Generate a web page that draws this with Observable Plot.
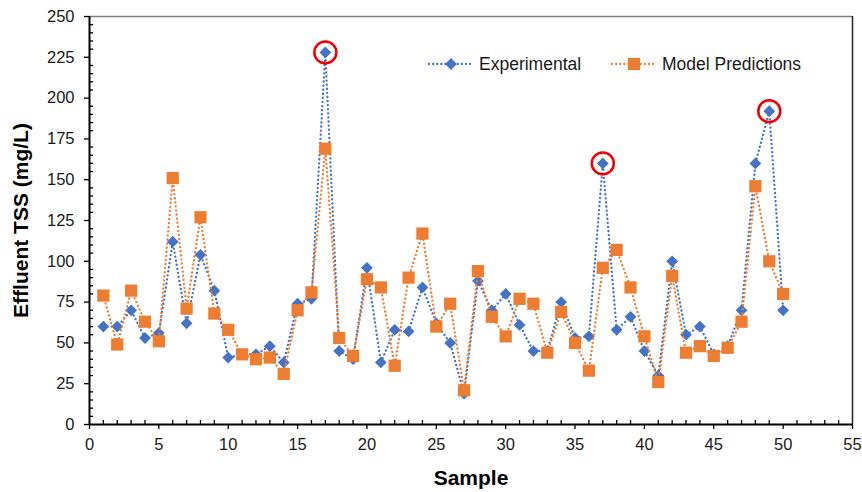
<!DOCTYPE html>
<html>
<head>
<meta charset="utf-8">
<script src="https://cdn.jsdelivr.net/npm/d3@7"></script>
<script src="https://cdn.jsdelivr.net/npm/@observablehq/plot@0.6"></script>
<style>
  body { margin: 0; background: #fff; }
  #chart svg { display: block; }
</style>
</head>
<body>
<div id="chart"></div>
<script>
// Sample index and effluent TSS (mg/L): measured vs. model
const sample = [1, 2, 3, 4, 5, 6, 7, 8, 9, 10, 11, 12, 13, 14, 15, 16, 17, 18, 19, 20,
  21, 22, 23, 24, 25, 26, 27, 28, 29, 30, 31, 32, 33, 34, 35, 36, 37, 38, 39, 40,
  41, 42, 43, 44, 45, 46, 47, 48, 49, 50];
const experimental = [60, 60, 70, 53, 56, 112, 62, 104, 82, 41, 43, 43, 48, 38, 74, 77, 228, 45, 40, 96,
  38, 58, 57, 84, 62, 50, 19, 88, 70, 80, 61, 45, 45, 75, 53, 54, 160, 58, 66, 45,
  30, 100, 55, 60, 43, 48, 70, 160, 192, 70];
const model = [79, 49, 82, 63, 51, 151, 71, 127, 68, 58, 43, 40, 41, 31, 70, 81, 169, 53, 42, 89,
  84, 36, 90, 117, 60, 74, 21, 94, 66, 54, 77, 74, 44, 69, 50, 33, 96, 107, 84, 54,
  26, 91, 44, 48, 42, 47, 63, 146, 100, 80];
// Samples whose measured peak is circled
const highlighted = [17, 37, 49];

const xMajor = [0, 5, 10, 15, 20, 25, 30, 35, 40, 45, 50, 55];
const yMajor = [0, 25, 50, 75, 100, 125, 150, 175, 200, 225, 250];
const xMinor = d3.range(0, 56, 1).filter(v => v % 5 !== 0);
const yMinor = d3.range(0, 251, 5).filter(v => v % 25 !== 0);

const seriesNames = ["Experimental", "Model Predictions"];
const blue = "#4472C4";
const orange = "#ED7D31";
const font = "'Liberation Sans', Arial, sans-serif";

const rows = sample.map((s, i) => ({sample: s, experimental: experimental[i], model: model[i]}));
const peaks = rows.filter(d => highlighted.includes(d.sample));

const dotted = {strokeWidth: 2.3, strokeDasharray: "0.1,4", strokeLinecap: "round"};
const diamondR = 5.3;
const squareR = 6.9;

const chart = Plot.plot({
  width: 862,
  height: 492,
  marginLeft: 89,
  marginRight: 10,
  marginTop: 16,
  marginBottom: 68,
  x: {domain: [0, 55]},
  y: {domain: [0, 250]},
  style: {fontFamily: font, fontSize: "16.5px", color: "#1a1a1a", background: "#fff", overflow: "visible"},
  marks: [
    // plot-area border (top and right)
    Plot.ruleY([250], {stroke: "#808080", strokeWidth: 1.5}),
    Plot.ruleX([55], {stroke: "#262626", strokeWidth: 1.5}),
    // minor ticks pointing inward
    Plot.ruleY(yMinor, {y: d => d, x1: 0, x2: 0, insetRight: -4, stroke: "#000", strokeWidth: 1.3}),
    Plot.ruleX(xMinor, {x: d => d, y1: 0, y2: 0, insetTop: -4, stroke: "#000", strokeWidth: 1.3}),
    // axes
    Plot.axisY(yMajor, {tickSize: 5, tickPadding: 10, label: null, fontSize: 16.5, stroke: "#000", strokeWidth: 1.3}),
    Plot.axisX(xMajor, {tickSize: 5, tickPadding: 9, label: null, fontSize: 16.5, stroke: "#000", strokeWidth: 1.3}),
    Plot.ruleX([0], {stroke: "#000", strokeWidth: 2}),
    Plot.ruleY([0], {stroke: "#000", strokeWidth: 2}),
    // axis titles
    Plot.text(["Effluent TSS (mg/L)"], {frameAnchor: "left", dx: -68, rotate: -90, textAnchor: "middle", lineAnchor: "middle", fontSize: 21, fontWeight: "bold", fill: "#000"}),
    Plot.text(["Sample"], {frameAnchor: "bottom", dy: 54, textAnchor: "middle", lineAnchor: "middle", fontSize: 21, fontWeight: "bold", fill: "#000"}),
    // experimental series
    Plot.line(rows, {x: "sample", y: "experimental", stroke: blue, ...dotted}),
    Plot.dot(rows, {x: "sample", y: "experimental", symbol: "diamond2", r: diamondR, fill: blue, stroke: null}),
    // model series
    Plot.line(rows, {x: "sample", y: "model", stroke: orange, ...dotted}),
    Plot.dot(rows, {x: "sample", y: "model", symbol: "square", r: squareR, fill: orange, stroke: null}),
    // circled peaks
    Plot.dot(peaks, {x: "sample", y: "experimental", r: 11, fill: "none", stroke: "#EE0000", strokeWidth: 2.5})
  ]
});

// legend inside the plot area, top right
const svg = d3.select(chart);
const legend = svg.append("g")
  .attr("font-family", font)
  .attr("font-size", 17.5)
  .attr("text-anchor", "start");
const legendItems = [
  {name: seriesNames[0], color: blue, symbol: d3.symbolDiamond2, size: Math.PI * diamondR * diamondR, x: 428},
  {name: seriesNames[1], color: orange, symbol: d3.symbolSquare, size: Math.PI * squareR * squareR, x: 611}
];
const ly = 64;
for (const it of legendItems) {
  const g = legend.append("g").attr("transform", `translate(${it.x},${ly})`);
  g.append("line").attr("x1", 1).attr("x2", 45).attr("y1", 0).attr("y2", 0)
    .attr("stroke", it.color).attr("stroke-width", 2.3)
    .attr("stroke-dasharray", "0.1,4").attr("stroke-linecap", "round");
  g.append("path").attr("d", d3.symbol(it.symbol, it.size)()).attr("transform", "translate(23,0)")
    .attr("fill", it.color);
  g.append("text").attr("x", 51).attr("dy", "0.35em").attr("text-anchor", "start")
    .attr("fill", "#1a1a1a").text(it.name);
}

document.getElementById("chart").append(chart);
</script>
</body>
</html>
